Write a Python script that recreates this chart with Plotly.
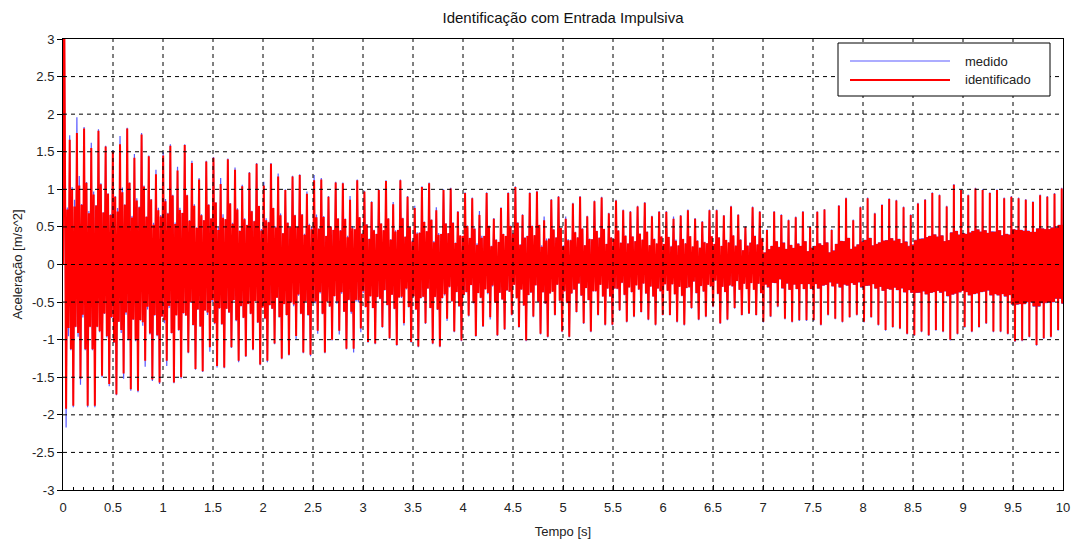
import plotly.graph_objects as go

# ---------------- data ----------------
titulo = "Identificação com Entrada Impulsiva"
nome_x = "Tempo [s]"
nome_y = "Aceleração [m/s^2]"
series_nomes = ["medido", "identificado"]

# time of first and last main-oscillation peak [s]
t_primeiro_pico = 0.067
t_ultimo_pico = 9.987

# initial impulse (time, value)
impulso_t = [0.0, 0.012]
impulso_ident = [0.0, 3.6]
impulso_medido = [0.0, 3.6]
primeiro_vale_ident = -1.92
primeiro_vale_medido = -2.17

# successive peaks of the main oscillation (identificado)
picos_ident = [
    1.66, 1.75, 1.81, 1.55, 1.78, 1.57, 1.50, 1.60, 1.81, 1.42, 1.73, 1.44, 1.20, 1.45,
    1.58, 1.25, 1.59, 1.35, 1.13, 1.37, 1.42, 1.07, 1.40, 1.26, 1.04, 1.22, 1.34, 1.05,
    1.34, 1.17, 0.99, 1.17, 1.19, 0.94, 1.12, 1.13, 0.90, 1.09, 1.08, 0.86, 1.12, 0.97,
    0.83, 0.99, 1.11, 0.80,
    1.12, 0.90, 0.75, 1.03, 1.08, 0.72, 0.99, 1.01, 0.70, 0.95, 0.88, 0.66, 0.95, 0.61,
    0.75, 0.95, 1.03, 0.66,
    0.95, 0.97, 0.59, 0.86, 0.90, 0.61, 0.81, 0.90, 0.64, 0.84, 0.89, 0.68, 0.85, 0.72,
    0.70, 0.77, 0.82, 0.64, 0.70,
    0.70, 0.61, 0.65, 0.72, 0.61, 0.57, 0.72, 0.72, 0.65, 0.77, 0.66, 0.50, 0.76, 0.70,
    0.46, 0.70, 0.66, 0.59,
    0.63, 0.70, 0.50, 0.70, 0.73, 0.46, 0.78, 0.88, 0.59, 0.76, 0.88, 0.68, 0.79, 0.87,
    0.85, 0.76, 0.66, 0.81,
    0.86, 0.95, 0.92, 0.77, 1.06, 0.99, 0.92, 1.01, 0.99, 0.95, 0.99, 0.88, 0.90, 0.88,
    0.86, 0.83, 0.92, 0.90, 0.94, 1.01,
]
# successive troughs following each peak (identificado)
vales_ident = [
    -1.88, -1.52, -1.88, -1.88, -1.48, -1.59, -1.73, -1.45, -1.66, -1.68, -1.28, -1.53,
    -1.57, -1.28, -1.57, -1.50, -1.17, -1.39, -1.42, -1.10, -1.35, -1.37, -1.10, -1.28,
    -1.22, -1.13, -1.33, -1.28,
    -1.05, -1.25, -1.20, -0.95, -1.17, -1.20, -0.88, -1.17, -1.00, -0.88, -1.12, -1.12,
    -0.85, -1.03, -1.05, -0.83, -0.98, -1.07,
    -0.78, -1.03, -1.09, -0.78, -1.05, -1.09, -0.72, -0.89, -1.01, -0.68, -0.95, -0.82,
    -0.70, -0.94, -0.86, -0.67, -0.83, -1.01,
    -0.69, -0.92, -0.96, -0.67, -0.89, -0.96, -0.63, -0.78, -0.89, -0.67, -0.80, -0.80,
    -0.61, -0.76, -0.69, -0.63, -0.73, -0.80, -0.67,
    -0.67, -0.76, -0.80, -0.58, -0.73, -0.69, -0.56, -0.78, -0.73, -0.58, -0.67, -0.65,
    -0.67, -0.76, -0.69, -0.56, -0.72, -0.76,
    -0.74, -0.74, -0.74, -0.80, -0.67, -0.72, -0.76, -0.70, -0.67, -0.76, -0.70, -0.80,
    -0.87, -0.83, -0.85, -0.92, -0.94, -0.89,
    -0.94, -0.87, -0.89, -1.00, -0.92, -0.83, -0.89, -0.83, -0.78, -0.89, -0.89, -0.92,
    -1.02, -1.01, -0.96, -1.07, -0.98, -0.96, -0.87, -1.00,
]
# measured signal peaks / troughs (blue, visible where it exceeds the red)
picos_medido = [
    1.72, 1.96, 1.83, 1.62, 1.80, 1.58, 1.52, 1.71, 1.82, 1.47, 1.75, 1.45, 1.26, 1.50,
    1.60, 1.30, 1.60, 1.38, 1.15, 1.38, 1.43, 1.15, 1.41, 1.29, 1.06, 1.23, 1.35, 1.10,
    1.35, 1.21, 1.00, 1.18, 1.20, 0.97, 1.19, 1.15, 0.91, 1.10, 1.09, 0.91, 1.13, 0.98,
    0.84, 1.00, 1.12, 0.83,
    1.13, 0.91, 0.78, 1.04, 1.09, 0.76, 1.00, 1.02, 0.71, 0.96, 0.89, 0.71, 0.96, 0.62,
    0.76, 0.96, 1.04, 0.67,
    0.96, 0.98, 0.64, 0.87, 0.91, 0.64, 0.82, 0.91, 0.65, 0.85, 0.90, 0.69, 0.86, 0.73,
    0.71, 0.78, 0.83, 0.65, 0.71,
    0.71, 0.64, 0.66, 0.73, 0.62, 0.58, 0.73, 0.73, 0.66, 0.78, 0.67, 0.51, 0.77, 0.71,
    0.47, 0.71, 0.67, 0.60,
    0.64, 0.71, 0.51, 0.71, 0.74, 0.47, 0.79, 0.89, 0.60, 0.77, 0.89, 0.69, 0.80, 0.88,
    0.86, 0.77, 0.67, 0.82,
    0.87, 0.96, 0.93, 0.78, 1.07, 1.00, 0.93, 1.02, 1.00, 0.96, 1.00, 0.89, 0.91, 0.89,
    0.87, 0.84, 0.93, 0.91, 0.95, 1.02,
]
vales_medido = [
    -1.90, -1.60, -1.90, -1.90, -1.50, -1.62, -1.74, -1.52, -1.68, -1.70, -1.36, -1.55,
    -1.59, -1.35, -1.58, -1.52, -1.18, -1.40, -1.43, -1.16, -1.37, -1.38, -1.11, -1.30,
    -1.23, -1.14, -1.34, -1.30,
    -1.06, -1.26, -1.21, -0.99, -1.18, -1.22, -0.92, -1.18, -1.01, -0.93, -1.13, -1.17,
    -0.90, -1.04, -1.06, -0.84, -0.99, -1.08,
    -0.81, -1.04, -1.10, -0.79, -1.06, -1.10, -0.75, -0.90, -1.02, -0.69, -0.96, -0.83,
    -0.73, -0.95, -0.87, -0.68, -0.84, -1.02,
    -0.70, -0.93, -0.97, -0.68, -0.90, -0.97, -0.64, -0.79, -0.90, -0.68, -0.81, -0.81,
    -0.62, -0.77, -0.70, -0.64, -0.74, -0.81, -0.68,
    -0.68, -0.77, -0.81, -0.59, -0.74, -0.70, -0.57, -0.79, -0.74, -0.59, -0.68, -0.66,
    -0.68, -0.77, -0.70, -0.57, -0.73, -0.77,
    -0.75, -0.75, -0.75, -0.81, -0.68, -0.73, -0.77, -0.71, -0.68, -0.77, -0.71, -0.81,
    -0.88, -0.84, -0.86, -0.93, -0.95, -0.90,
    -0.95, -0.88, -0.90, -1.01, -0.93, -0.84, -0.90, -0.84, -0.79, -0.90, -0.90, -0.93,
    -1.03, -1.02, -0.97, -1.08, -0.99, -0.97, -0.88, -1.01,
]
# inner (fast) oscillation level as a fraction of the neighbouring peak/trough,
# per half second, on the descending and on the ascending half of each cycle
razao_descida = [0.60, 0.60, 0.58, 0.58, 0.56, 0.56, 0.55, 0.55, 0.54, 0.54,
                 0.53, 0.53, 0.52, 0.50, 0.44, 0.40, 0.40, 0.42, 0.46, 0.52]
razao_subida = [0.44, 0.44, 0.43, 0.43, 0.42, 0.42, 0.41, 0.41, 0.40, 0.40,
                0.40, 0.40, 0.39, 0.38, 0.35, 0.35, 0.37, 0.40, 0.44, 0.52]
# number of fast wiggles per half-cycle, per half second
oscil_rapidas = [1, 1, 1, 1, 1, 1, 1, 1, 1, 1, 1, 1, 1, 1, 2, 3, 4, 4, 4, 4]

# axis ticks
x_ticks = [0, 0.5, 1, 1.5, 2, 2.5, 3, 3.5, 4, 4.5, 5, 5.5, 6, 6.5, 7, 7.5, 8, 8.5, 9, 9.5, 10]
x_rotulos = ["0", "0.5", "1", "1.5", "2", "2.5", "3", "3.5", "4", "4.5", "5", "5.5",
             "6", "6.5", "7", "7.5", "8", "8.5", "9", "9.5", "10"]
y_ticks = [-3, -2.5, -2, -1.5, -1, -0.5, 0, 0.5, 1, 1.5, 2, 2.5, 3]
y_rotulos = ["-3", "-2.5", "-2", "-1.5", "-1", "-0.5", "0", "0.5", "1", "1.5", "2", "2.5", "3"]


def montar_serie(imp_v, vale0, picos, vales):
    n = min(len(picos), len(vales))
    T = (t_ultimo_pico - t_primeiro_pico) / (n - 1)
    ext_t = [t_primeiro_pico - T / 2]
    ext_v = [vale0]
    for i in range(n):
        ext_t += [t_primeiro_pico + i * T, t_primeiro_pico + (i + 0.5) * T]
        ext_v += [picos[i], vales[i]]
    xs = list(impulso_t)
    ys = list(imp_v)
    xs.append(ext_t[0])
    ys.append(ext_v[0])
    for k in range(1, len(ext_t)):
        ta, tb = ext_t[k - 1], ext_t[k]
        va, vb = ext_v[k - 1], ext_v[k]
        seg = min(max(int(0.5 * (ta + tb) / 0.5), 0), len(oscil_rapidas) - 1)
        m = oscil_rapidas[seg]
        descendo = vb < va
        r = razao_descida[seg] if descendo else razao_subida[seg]
        wig = []
        for _ in range(m):
            wig += [r * vb, r * va]
        for j, w in enumerate(wig):
            xs.append(ta + (tb - ta) * (j + 1) / (len(wig) + 1))
            ys.append(w)
        xs.append(tb)
        ys.append(vb)
    return xs, ys


xm, ym = montar_serie(impulso_medido, primeiro_vale_medido, picos_medido, vales_medido)
xi, yi = montar_serie(impulso_ident, primeiro_vale_ident, picos_ident, vales_ident)

fonte = "Liberation Sans, Arial, Helvetica, sans-serif"
azul = "rgb(90,90,255)"
vermelho = "rgb(255,0,0)"

fig = go.Figure()
fig.add_trace(go.Scatter(x=xm, y=ym, mode="lines", name=series_nomes[0],
                         line=dict(color=azul, width=1.2), showlegend=False))
fig.add_trace(go.Scatter(x=xi, y=yi, mode="lines", name=series_nomes[1],
                         line=dict(color=vermelho, width=2), showlegend=False))

shapes = []
for v in x_ticks[1:-1]:
    shapes.append(dict(type="line", xref="x", yref="paper", x0=v, x1=v, y0=0, y1=1,
                       line=dict(color="black", width=1, dash="4px,4px"), layer="above"))
for v in y_ticks[1:-1]:
    shapes.append(dict(type="line", xref="paper", yref="y", x0=0, x1=1, y0=v, y1=v,
                       line=dict(color="black", width=1, dash="4px,4px"), layer="above"))

# legend box (drawn manually to reproduce long line samples)
shapes.append(dict(type="rect", xref="paper", yref="paper", x0=0.775, x1=0.987,
                   y0=0.8736, y1=0.9911, fillcolor="white",
                   line=dict(color="black", width=1), layer="above"))
shapes.append(dict(type="line", xref="paper", yref="paper", x0=0.787, x1=0.887,
                   y0=0.9512, y1=0.9512, line=dict(color=azul, width=1.2), layer="above"))
shapes.append(dict(type="line", xref="paper", yref="paper", x0=0.787, x1=0.887,
                   y0=0.9091, y1=0.9091, line=dict(color=vermelho, width=2), layer="above"))

annotations = [
    dict(text=series_nomes[0], xref="paper", yref="paper", x=0.900, y=0.9512,
         xanchor="left", yanchor="middle", showarrow=False,
         font=dict(family=fonte, size=13, color="#222")),
    dict(text=series_nomes[1], xref="paper", yref="paper", x=0.900, y=0.9091,
         xanchor="left", yanchor="middle", showarrow=False,
         font=dict(family=fonte, size=13, color="#222")),
]

fig.update_layout(
    width=1074, height=544,
    margin=dict(l=63, r=11, t=39, b=54),
    paper_bgcolor="white", plot_bgcolor="white",
    showlegend=False,
    font=dict(family=fonte, size=13, color="#222"),
    title=dict(text=titulo, x=0.5, xref="paper", xanchor="center",
               y=1 - 18 / 544, yref="container", yanchor="middle",
               font=dict(family=fonte, size=15, color="#111")),
    shapes=shapes,
    annotations=annotations,
    xaxis=dict(range=[0, 10], tickvals=x_ticks, ticktext=x_rotulos,
               showgrid=False, zeroline=False, automargin=False,
               showline=True, linecolor="black", linewidth=1, mirror=True,
               ticks="inside", ticklen=5, tickcolor="black",
               minor=dict(dtick=0.1, ticks="inside", ticklen=3, tickcolor="black",
                          showgrid=False),
               ticklabelstandoff=5,
               tickfont=dict(size=13, color="#222"),
               title=dict(text=nome_x, standoff=13, font=dict(size=13, color="#222")),
               layer="above traces"),
    yaxis=dict(range=[-3, 3], tickvals=y_ticks, ticktext=y_rotulos,
               showgrid=False, zeroline=False, automargin=False,
               showline=True, linecolor="black", linewidth=1, mirror=True,
               ticks="outside", ticklen=5, tickcolor="black",
               tickfont=dict(size=13, color="#222"),
               title=dict(text=nome_y, standoff=6, font=dict(size=13, color="#222")),
               layer="above traces"),
)

fig.write_html("out.html", config={"displayModeBar": False},
               post_script="document.body.style.margin='0px';"
                           "document.body.style.overflow='hidden';")
